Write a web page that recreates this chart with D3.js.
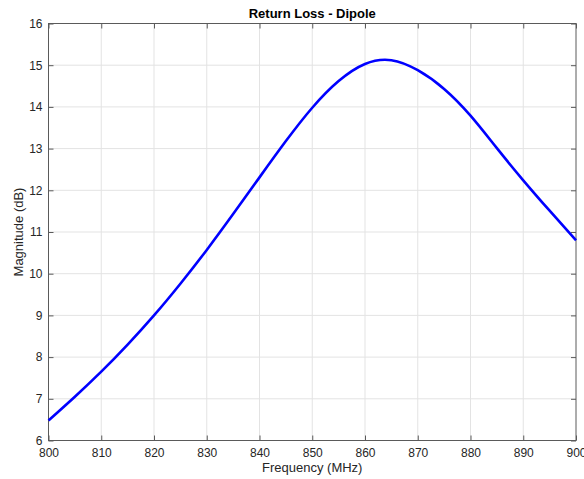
<!DOCTYPE html>
<html lang="en">
<head>
    <meta charset="UTF-8">
    <title>Return Loss - Dipole</title>
    <script src="https://d3js.org/d3.v7.min.js"></script>
    <style>
        body { margin: 0; background: #fff; }
        svg { display: block; font-family: "Liberation Sans", Arial, Helvetica, sans-serif; }
        .grid line { stroke: #e3e3e3; stroke-width: 1px; }
        .tick text { fill: #262626; font-size: 12px; }
        .frame { fill: none; stroke: #5a5a5a; stroke-width: 1px; }
    </style>
</head>
<body>
    <svg width="584" height="479"></svg>
    <script>
        // values
        const freqMHz = [800, 805, 810, 815, 820, 825, 830, 835, 840, 845, 850,
                         855, 860, 865, 870, 875, 880, 885, 890, 895, 900];
        const returnLossDb = [6.48, 7.05, 7.65, 8.30, 9.00, 9.76, 10.57, 11.43, 12.31, 13.18, 13.98,
                              14.62, 15.03, 15.12, 14.88, 14.43, 13.79, 13.01, 12.24, 11.51, 10.80];
        const xTicks = [800, 810, 820, 830, 840, 850, 860, 870, 880, 890, 900];
        const yTicks = [6, 7, 8, 9, 10, 11, 12, 13, 14, 15, 16];

        const svg = d3.select("svg");
        const m = { left: 48.5, right: 576, top: 23.5, bottom: 440.5 };

        const x = d3.scaleLinear().domain([800, 900]).range([m.left, m.right]);
        const y = d3.scaleLinear().domain([6, 16]).range([m.bottom, m.top]);

        // grid
        const grid = svg.append("g").attr("class", "grid");
        grid.selectAll(".gx").data(xTicks.slice(1, -1)).enter().append("line")
            .attr("x1", d => x(d)).attr("x2", d => x(d))
            .attr("y1", m.top).attr("y2", m.bottom);
        grid.selectAll(".gy").data(yTicks.slice(1, -1)).enter().append("line")
            .attr("x1", m.left).attr("x2", m.right)
            .attr("y1", d => y(d)).attr("y2", d => y(d));

        // axes (ticks inside, like matlab)
        const tickLen = 5;
        const xAxis = svg.append("g").attr("transform", `translate(0,${m.bottom})`)
            .call(d3.axisBottom(x).tickValues(xTicks).tickSizeInner(-tickLen).tickSizeOuter(0).tickPadding(8));
        const xTop = svg.append("g").attr("transform", `translate(0,${m.top})`)
            .call(d3.axisTop(x).tickValues(xTicks).tickSizeInner(-tickLen).tickSizeOuter(0).tickFormat(""));
        const yAxis = svg.append("g").attr("transform", `translate(${m.left},0)`)
            .call(d3.axisLeft(y).tickValues(yTicks).tickSizeInner(-tickLen).tickSizeOuter(0).tickPadding(6));
        const yRight = svg.append("g").attr("transform", `translate(${m.right},0)`)
            .call(d3.axisRight(y).tickValues(yTicks).tickSizeInner(-tickLen).tickSizeOuter(0).tickFormat(""));

        [xAxis, xTop, yAxis, yRight].forEach(g => {
            g.select(".domain").remove();
            g.selectAll(".tick line").attr("stroke", "#5a5a5a");
        });

        svg.append("rect").attr("class", "frame")
            .attr("x", m.left).attr("y", m.top)
            .attr("width", m.right - m.left).attr("height", m.bottom - m.top);

        // curve
        const line = d3.line()
            .x((d, i) => x(freqMHz[i]))
            .y(d => y(d))
            .curve(d3.curveNatural);

        svg.append("path")
            .datum(returnLossDb)
            .attr("fill", "none")
            .attr("stroke", "#0000ff")
            .attr("stroke-width", 2.6)
            .attr("d", line);

        // labels
        svg.append("text")
            .attr("x", (m.left + m.right) / 2).attr("y", 18)
            .attr("text-anchor", "middle")
            .attr("font-size", 13).attr("font-weight", "bold").attr("fill", "#000")
            .text("Return Loss - Dipole");

        svg.append("text")
            .attr("x", (m.left + m.right) / 2).attr("y", 472)
            .attr("text-anchor", "middle")
            .attr("font-size", 13).attr("fill", "#262626")
            .text("Frequency (MHz)");

        svg.append("text")
            .attr("transform", `translate(23,${(m.top + m.bottom) / 2}) rotate(-90)`)
            .attr("text-anchor", "middle")
            .attr("font-size", 13).attr("fill", "#262626")
            .text("Magnitude (dB)");
    </script>
</body>
</html>
